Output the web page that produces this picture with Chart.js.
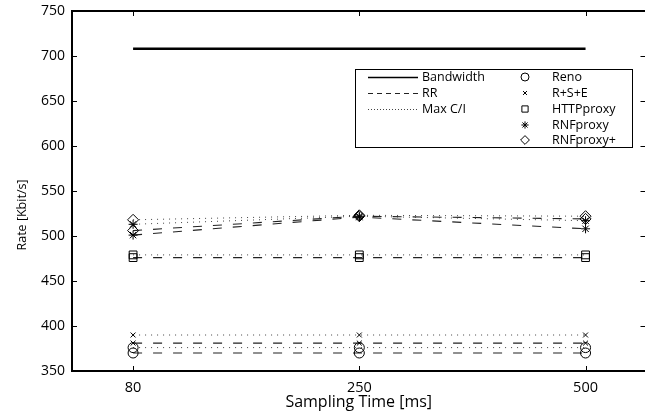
<!DOCTYPE html>
<html>
<head>
<meta charset="utf-8">
<script src="https://cdn.jsdelivr.net/npm/chart.js@4"></script>
<style>
  html, body { margin: 0; padding: 0; background: #fff; overflow: hidden; }
  canvas { display: block; }
</style>
</head>
<body>
<canvas id="c" width="652" height="413"></canvas>
<script>
// x categories (equally spaced) and y tick range
const xLabels = ['80', '250', '500'];
const yMin = 350, yMax = 750, yStep = 50;

// Bandwidth reference line
const bandwidth = [708, 708, 708];

// RR scheduler (dashed)
const renoRR = [370, 370, 370];
const rseRR = [381, 381, 381];
const httpRR = [476, 476, 476];
const rnfRR = [501, 521, 508];
const rnfPlusRR = [506, 522, 519];

// Max C/I scheduler (dotted)
const renoMaxCI = [376, 376, 376];
const rseMaxCI = [390, 390, 390];
const httpMaxCI = [479, 479, 479];
const rnfMaxCI = [513, 522, 517];
const rnfPlusMaxCI = [518, 523, 522];

const protoNames = ['Reno', 'R+S+E', 'HTTPproxy', 'RNFproxy', 'RNFproxy+'];
const schedNames = ['Bandwidth', 'RR', 'Max C/I'];
const xTitle = 'Sampling Time [ms]';
const yTitle = 'Rate [Kbit/s]';

const rrSeries = [renoRR, rseRR, httpRR, rnfRR, rnfPlusRR];
const mciSeries = [renoMaxCI, rseMaxCI, httpMaxCI, rnfMaxCI, rnfPlusMaxCI];

// marker + line styles
const markers = ['circle', 'crossRot', 'rect', 'star', 'rectRot'];
const markerSize = [5, 3.5, 5.5, 4.5, 5.5];
const lineDash = [[], [9, 11], [1, 5]];
const lineWidth = [2.5, 1.1, 1];
const lineColor = ['#000', '#222', '#444'];
const FONT = '"Open Sans", sans-serif';

const pts = arr => arr.map((v, i) => ({ x: i, y: v }));

const datasets = [{
  label: schedNames[0],
  data: pts(bandwidth),
  borderColor: lineColor[0],
  borderWidth: lineWidth[0],
  pointRadius: 0
}];

function addSeries(list, s) {
  list.forEach((arr, p) => {
    datasets.push({
      label: protoNames[p] + ' ' + schedNames[s],
      data: pts(arr),
      borderColor: lineColor[s],
      borderWidth: lineWidth[s],
      borderDash: lineDash[s],
      pointStyle: markers[p],
      pointRadius: markerSize[p],
      pointBorderColor: '#000',
      pointBackgroundColor: 'rgba(0,0,0,0)',
      pointBorderWidth: 1
    });
  });
}
addSeries(rrSeries, 1);
addSeries(mciSeries, 2);

// frame (right spine falls off the picture) with inward ticks, plus the y title
const framePlugin = {
  id: 'frame',
  afterDraw(chart) {
    const { ctx, chartArea: a, scales } = chart;
    const tl = 5;
    ctx.save();
    ctx.strokeStyle = '#000';
    ctx.lineWidth = 1;
    ctx.beginPath();
    scales.y.ticks.forEach(t => {
      const y = Math.round(scales.y.getPixelForValue(t.value)) + 0.5;
      ctx.moveTo(a.left, y); ctx.lineTo(a.left + tl, y);
      ctx.moveTo(a.right, y); ctx.lineTo(a.right - tl, y);
    });
    scales.x.ticks.forEach(t => {
      const x = Math.round(scales.x.getPixelForValue(t.value)) + 0.5;
      ctx.moveTo(x, a.bottom); ctx.lineTo(x, a.bottom - tl);
      ctx.moveTo(x, a.top); ctx.lineTo(x, a.top + tl);
    });
    ctx.stroke();
    ctx.lineWidth = 2;
    ctx.beginPath();
    ctx.moveTo(a.right, a.top);
    ctx.lineTo(a.left, a.top);
    ctx.lineTo(a.left, a.bottom);
    ctx.lineTo(a.right, a.bottom);
    ctx.stroke();

    // y title sits a bit below the axis centre in the original
    ctx.translate(22, 215);
    ctx.rotate(-Math.PI / 2);
    ctx.font = '12.5px ' + FONT;
    ctx.fillStyle = '#000';
    ctx.textAlign = 'center';
    ctx.textBaseline = 'middle';
    ctx.fillText(yTitle, 0, 0);
    ctx.restore();
  }
};

// two-column legend box: line styles left, markers right
const legendPlugin = {
  id: 'boxLegend',
  afterDraw(chart) {
    const ctx = chart.ctx;
    const bx = 355, by = 69, bw = 277, bh = 78;
    const rowY = [77, 93, 109, 125, 140];
    ctx.save();
    ctx.fillStyle = '#fff';
    ctx.fillRect(bx, by, bw, bh);
    ctx.strokeStyle = '#000';
    ctx.lineWidth = 1;
    ctx.strokeRect(bx + 0.5, by + 0.5, bw, bh);
    ctx.font = '12.5px ' + FONT;
    ctx.textBaseline = 'middle';
    schedNames.forEach((name, i) => {
      const y = rowY[i] + 0.5;
      ctx.beginPath();
      ctx.setLineDash(i === 1 ? [5, 4] : i === 2 ? [1, 2] : []);
      ctx.lineWidth = i === 0 ? 1.5 : 1;
      ctx.strokeStyle = lineColor[i];
      ctx.moveTo(368, y); ctx.lineTo(418, y);
      ctx.stroke();
      ctx.setLineDash([]);
      ctx.fillStyle = '#000';
      ctx.fillText(name, 422, rowY[i]);
    });
    protoNames.forEach((name, i) => {
      ctx.strokeStyle = '#000';
      ctx.fillStyle = 'rgba(0,0,0,0)';
      ctx.lineWidth = 1;
      Chart.helpers.drawPoint(ctx, {
        pointStyle: markers[i],
        radius: markerSize[i] * 0.8,
        borderWidth: 1,
        rotation: 0
      }, 525, rowY[i]);
      ctx.fillStyle = '#000';
      ctx.fillText(name, 552, rowY[i]);
    });
    ctx.restore();
  }
};

Chart.defaults.font.family = FONT;
Chart.defaults.color = '#000';

new Chart(document.getElementById('c'), {
  type: 'line',
  data: { datasets },
  plugins: [framePlugin, legendPlugin],
  options: {
    responsive: false,
    animation: false,
    layout: { padding: { top: 11, right: 0, left: 0, bottom: 0 } },
    elements: { line: { tension: 0, fill: false } },
    plugins: { legend: { display: false }, tooltip: { enabled: false } },
    scales: {
      x: {
        type: 'linear',
        min: -0.27,
        max: 2.265,
        afterBuildTicks: sc => { sc.ticks = xLabels.map((l, i) => ({ value: i })); },
        afterFit: sc => { sc.height = 42; sc.paddingLeft = 0; sc.paddingRight = 0; },
        grid: { display: false, drawTicks: false },
        border: { display: false },
        ticks: {
          padding: 8,
          font: { size: 14.5 },
          callback: v => xLabels[v]
        },
        title: {
          display: true,
          text: xTitle,
          font: { size: 16 },
          padding: { top: 1, bottom: 1 }
        }
      },
      y: {
        min: yMin,
        max: yMax,
        afterFit: sc => { sc.width = 72; sc.paddingTop = 0; sc.paddingBottom = 0; },
        grid: { display: false, drawTicks: false },
        border: { display: false },
        ticks: { stepSize: yStep, padding: 7, font: { size: 14 } }
      }
    }
  }
});
</script>
</body>
</html>
